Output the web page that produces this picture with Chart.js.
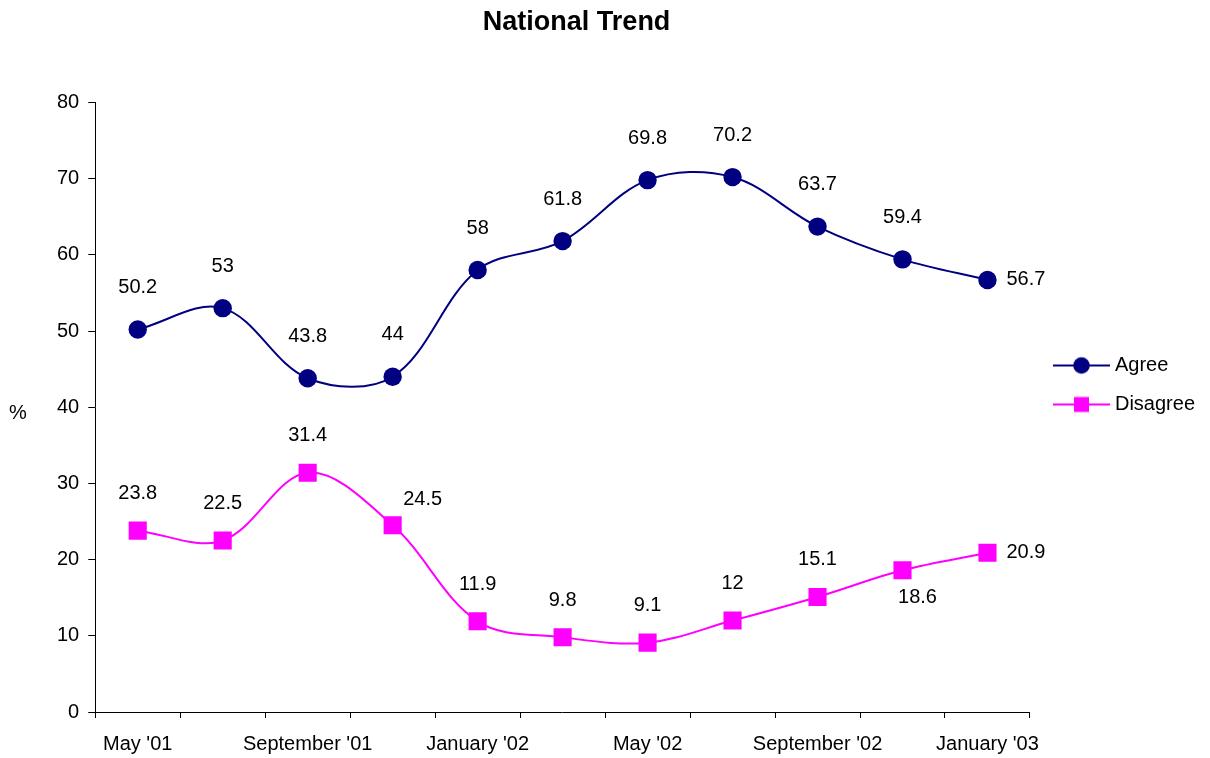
<!DOCTYPE html>
<html>
<head>
<meta charset="utf-8">
<title>National Trend</title>
<script src="https://cdn.jsdelivr.net/npm/chart.js@4/dist/chart.umd.min.js"></script>
<style>
  html, body { margin: 0; padding: 0; background: #fff; }
</style>
</head>
<body>
<canvas id="line-chart" width="1210" height="758"></canvas>
<script>
'use strict';

// datos del grafico
const meses = ["May '01", "July '01", "September '01", "November '01", "January '02", "March '02",
    "May '02", "July '02", "September '02", "November '02", "January '03"];
const agree = [50.2, 53, 43.8, 44, 58, 61.8, 69.8, 70.2, 63.7, 59.4, 56.7];
const disagree = [23.8, 22.5, 31.4, 24.5, 11.9, 9.8, 9.1, 12, 15.1, 18.6, 20.9];
const yTicks = [0, 10, 20, 30, 40, 50, 60, 70, 80];

const azul = '#000080';
const magenta = '#FF00FF';
const fuente = "'Liberation Sans', Arial, sans-serif";

// donde va cada etiqueta (por serie): distancia arriba del punto y casos especiales
const subir = [42, 37];
const especiales = [
    { 10: { dx: 19, dy: 0, align: 'left' } },
    { 3: { dx: 30, dy: -26, align: 'center' }, 9: { dx: 15, dy: 27, align: 'center' }, 10: { dx: 19, dy: 0, align: 'left' } }
];

Chart.defaults.font.family = fuente;
Chart.defaults.font.size = 20;
Chart.defaults.color = '#000';

// icono de la leyenda: linea con el marcador en medio (con margen a la izquierda)
let iconoLeyenda = (color, forma) => {
    let c = document.createElement('canvas');
    c.width = 66;
    c.height = 20;
    let g = c.getContext('2d');
    g.strokeStyle = color;
    g.lineWidth = 2;
    g.beginPath();
    g.moveTo(9, 10);
    g.lineTo(66, 10);
    g.stroke();
    g.fillStyle = color;
    if (forma == 'circle') {
        g.beginPath();
        g.arc(37.5, 10, 8.3, 0, Math.PI * 2);
        g.fill();
    } else {
        g.fillRect(30, 2.5, 15, 15);
    }
    return c;
};
const iconos = [iconoLeyenda(azul, 'circle'), iconoLeyenda(magenta, 'rect')];

// etiquetas de valores + el "%" del eje
const etiquetas = {
    id: 'etiquetas',
    afterLayout(chart) {
        // el titulo del original esta un poco a la derecha del centro del area
        const t = chart.titleBlock;
        if (t) {
            t.left += 14;
            t.right += 14;
        }
    },
    afterDatasetsDraw(chart) {
        const ctx = chart.ctx;
        ctx.save();
        ctx.font = '20px ' + fuente;
        ctx.fillStyle = '#000';
        ctx.textBaseline = 'middle';
        chart.data.datasets.forEach((ds, d) => {
            const meta = chart.getDatasetMeta(d);
            meta.data.forEach((pt, i) => {
                let pos = especiales[d][i] || { dx: 0, dy: -subir[d], align: 'center' };
                ctx.textAlign = pos.align;
                ctx.fillText(String(ds.data[i]), pt.x + pos.dx, pt.y + pos.dy);
            });
        });
        const area = chart.chartArea;
        ctx.textAlign = 'center';
        ctx.fillText('%', 18, (area.top + area.bottom) / 2 + 6);
        ctx.restore();
    }
};

new Chart(document.getElementById('line-chart'), {
    type: 'line',
    data: {
        labels: meses,
        datasets: [{
            label: 'Agree',
            data: agree,
            borderColor: azul,
            backgroundColor: azul,
            borderWidth: 2,
            pointStyle: 'circle',
            pointRadius: 9.2,
            pointBorderWidth: 0,
            tension: 0.35,
            fill: false
        }, {
            label: 'Disagree',
            data: disagree,
            borderColor: magenta,
            backgroundColor: magenta,
            borderWidth: 2,
            pointStyle: 'rect',
            pointRadius: 12.8,
            pointBorderWidth: 0,
            tension: 0.35,
            fill: false
        }]
    },
    options: {
        responsive: false,
        animation: false,
        events: [],
        layout: { padding: { left: 48, right: 5, top: 0, bottom: -12 } },
        scales: {
            x: {
                offset: true,
                grid: { offset: true, drawOnChartArea: false, color: '#000', tickLength: 6 },
                border: { color: '#000', width: 1 },
                ticks: {
                    autoSkip: false,
                    maxRotation: 0,
                    padding: 14,
                    callback: function (v, i) {
                        return i % 2 === 0 ? this.getLabelForValue(v) : '';
                    }
                }
            },
            y: {
                min: yTicks[0],
                max: yTicks[yTicks.length - 1],
                grid: { drawOnChartArea: false, color: '#000', tickLength: 7 },
                border: { color: '#000', width: 1 },
                ticks: { stepSize: yTicks[1] - yTicks[0], padding: 9 }
            }
        },
        plugins: {
            title: {
                display: true,
                text: 'National Trend',
                fullSize: false,
                color: '#000',
                font: { size: 27, weight: 'bold' },
                padding: { top: 6, bottom: 64 }
            },
            legend: {
                position: 'right',
                labels: {
                    usePointStyle: true,
                    pointStyleWidth: 56,
                    padding: 19,
                    color: '#000',
                    font: { size: 20 },
                    generateLabels: (chart) => {
                        let items = Chart.defaults.plugins.legend.labels.generateLabels(chart);
                        items.forEach((it, i) => { it.pointStyle = iconos[i]; });
                        return items;
                    }
                }
            },
            tooltip: { enabled: false }
        }
    },
    plugins: [etiquetas]
});
</script>
</body>
</html>
